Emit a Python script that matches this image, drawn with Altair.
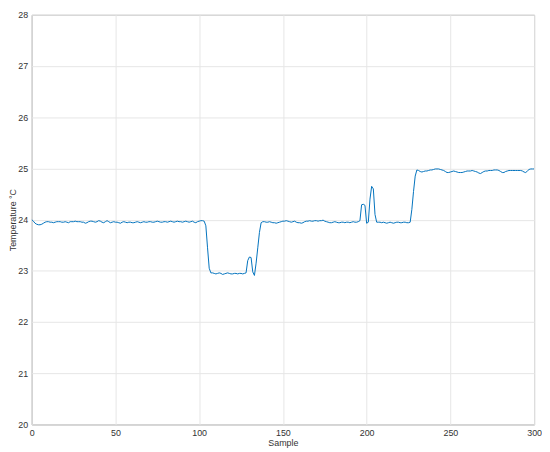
import altair as alt
import pandas as pd

# Temperature readings (°C), one per sample, samples 0..300
temps = [
    24.00, 23.97, 23.93, 23.91, 23.90, 23.90, 23.91, 23.93, 23.95, 23.96,
    23.96, 23.95, 23.95, 23.94, 23.95, 23.96, 23.96, 23.96, 23.95, 23.95,
    23.96, 23.95, 23.94, 23.96, 23.96, 23.96, 23.97, 23.96, 23.96, 23.96,
    23.95, 23.95, 23.93, 23.94, 23.96, 23.97, 23.97, 23.96, 23.95, 23.96,
    23.98, 23.97, 23.95, 23.94, 23.96, 23.98, 23.96, 23.94, 23.95, 23.96,
    23.95, 23.95, 23.94, 23.93, 23.95, 23.96, 23.95, 23.94, 23.95, 23.95,
    23.94, 23.94, 23.95, 23.96, 23.95, 23.94, 23.95, 23.96, 23.95, 23.95,
    23.96, 23.96, 23.95, 23.95, 23.96, 23.97, 23.96, 23.95, 23.95, 23.96,
    23.96, 23.95, 23.96, 23.97, 23.96, 23.95, 23.96, 23.97, 23.96, 23.96,
    23.95, 23.96, 23.97, 23.96, 23.95, 23.96, 23.97, 23.95, 23.94, 23.96,
    23.97, 23.98, 23.98, 23.97, 23.88, 23.45, 23.05, 22.96, 22.96, 22.95,
    22.94, 22.95, 22.96, 22.95, 22.93, 22.94, 22.95, 22.96, 22.95, 22.94,
    22.94, 22.95, 22.95, 22.94, 22.95, 22.95, 22.94, 22.95, 22.96, 23.20,
    23.27, 23.26, 22.98, 22.91, 23.15, 23.45, 23.75, 23.94, 23.96, 23.96,
    23.95, 23.95, 23.96, 23.95, 23.94, 23.94, 23.93, 23.94, 23.95, 23.96,
    23.97, 23.97, 23.98, 23.97, 23.96, 23.95, 23.96, 23.97, 23.95, 23.94,
    23.94, 23.93, 23.94, 23.96, 23.97, 23.97, 23.98, 23.97, 23.97, 23.98,
    23.98, 23.97, 23.98, 23.98, 23.99, 23.97, 23.96, 23.95, 23.94, 23.94,
    23.95, 23.96, 23.95, 23.94, 23.94, 23.95, 23.95, 23.94, 23.95, 23.95,
    23.94, 23.95, 23.96, 23.95, 23.95, 23.96, 23.98, 24.29, 24.30, 24.28,
    23.93, 23.95, 24.40, 24.65, 24.60, 24.10, 23.95, 23.95, 23.95, 23.94,
    23.95, 23.94, 23.93, 23.94, 23.95, 23.94, 23.93, 23.94, 23.95, 23.95,
    23.94, 23.94, 23.95, 23.95, 23.94, 23.94, 23.95, 24.20, 24.55, 24.85,
    24.97, 24.96, 24.94, 24.93, 24.94, 24.95, 24.95, 24.96, 24.97, 24.97,
    24.98, 24.99, 24.99, 24.99, 24.98, 24.97, 24.96, 24.94, 24.92, 24.92,
    24.93, 24.94, 24.95, 24.94, 24.93, 24.92, 24.92, 24.92, 24.93, 24.94,
    24.95, 24.95, 24.95, 24.96, 24.95, 24.94, 24.93, 24.91, 24.90, 24.92,
    24.94, 24.95, 24.95, 24.96, 24.96, 24.96, 24.97, 24.97, 24.97, 24.96,
    24.94, 24.92, 24.92, 24.94, 24.95, 24.96, 24.96, 24.96, 24.96, 24.96,
    24.96, 24.96, 24.96, 24.95, 24.93, 24.92, 24.95, 24.98, 24.99, 24.99,
    24.99,
]
samples = list(range(len(temps)))

x_ticks = [0, 50, 100, 150, 200, 250, 300]
y_ticks = [20, 21, 22, 23, 24, 25, 26, 27, 28]

df = pd.DataFrame({"Sample": samples, "Temp": temps})

FONT = "Liberation Sans"
TXT = "#333333"

axis_common = dict(
    grid=True,
    gridColor="#e6e6e6",
    gridWidth=1,
    domain=False,
    ticks=False,
    labelFont=FONT,
    labelFontSize=9,
    labelColor=TXT,
    titleFont=FONT,
    titleFontSize=9,
    titleFontWeight="normal",
    titleColor=TXT,
    labelFlush=False,
    labelOverlap=False,
)

chart = (
    alt.Chart(df)
    .mark_line(color="#0072BD", strokeWidth=1, clip=True)
    .encode(
        x=alt.X(
            "Sample:Q",
            scale=alt.Scale(domain=[0, 300], nice=False, zero=False),
            axis=alt.Axis(values=x_ticks, title="Sample", labelPadding=4,
                          titlePadding=1, **axis_common),
        ),
        y=alt.Y(
            "Temp:Q",
            scale=alt.Scale(domain=[20, 28], nice=False, zero=False),
            axis=alt.Axis(values=y_ticks, title="Temperature °C", labelPadding=4,
                          titlePadding=0, **axis_common),
        ),
    )
    .properties(
        width=509,
        height=415,
        autosize=alt.AutoSizeParams(type="none"),
        padding={"left": 24, "top": 4, "right": 8, "bottom": 25},
        background="white",
    )
    .configure_view(stroke="#8a8a8a", strokeWidth=1)
)

chart.save("out.html", embed_options={"renderer": "svg", "actions": False})
